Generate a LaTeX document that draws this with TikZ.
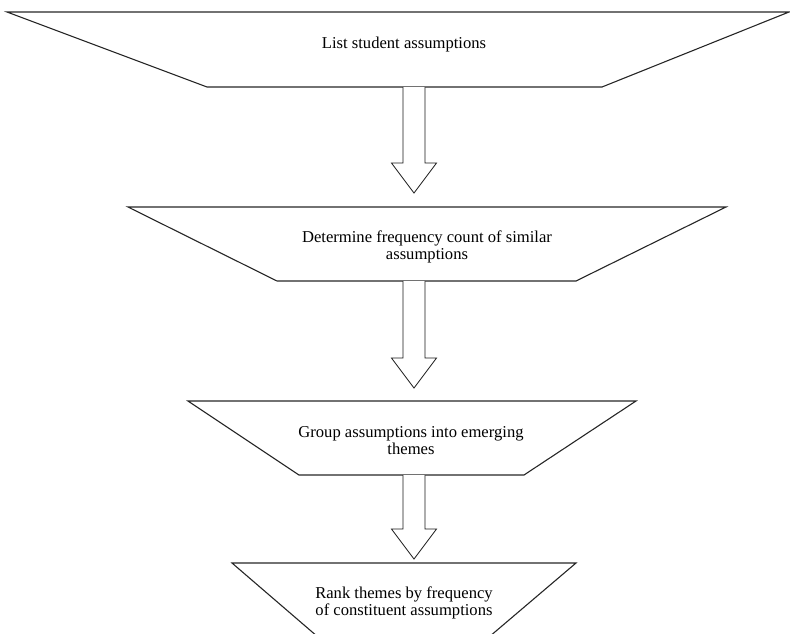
\documentclass[tikz,border=0pt]{standalone}
\usepackage{fontspec}
\setmainfont{Liberation Serif}
\usetikzlibrary{calc}
\begin{document}
\begin{tikzpicture}[x=1pt,y=1pt,
  shapebox/.style={draw=black!85, line width=1.1pt, line join=miter},
  blockarrow/.style={draw=black!90, line width=0.8pt, fill=white},
  steplabel/.style={inner sep=0pt, align=center, anchor=base, font=\fontsize{16.6}{17.5}\selectfont}]
\useasboundingbox (0,0) rectangle (790,-633);
\clip (0,0) rectangle (790,-633);
% trapezoids
\draw[shapebox] (7,-12) -- (789,-12) -- (602,-87) -- (207,-87) -- cycle;
\draw[shapebox] (128,-207) -- (726,-207) -- (576,-281) -- (277,-281) -- cycle;
\draw[shapebox] (188,-401) -- (636,-401) -- (524,-475) -- (299,-475) -- cycle;
\draw[shapebox] (232,-563) -- (576,-563) -- (489,-637) -- (318,-637) -- cycle;
% texts (anchor base = baseline of the last line)
\node[steplabel] (t1) at (404,-48) {List student assumptions};
\node[steplabel] (t2) at (427,-259.5) {Determine frequency count of similar\\assumptions};
\node[steplabel] (t3) at (411,-454.5) {Group assumptions into emerging\\themes};
\node[steplabel] (t4) at (404,-615.5) {Rank themes by frequency\\of constituent assumptions};
% arrow anchors
\coordinate (a1s) at (414,-87);  \coordinate (a1e) at (414,-193);
\coordinate (a2s) at (414,-281); \coordinate (a2e) at (414,-388);
\coordinate (a3s) at (414,-475); \coordinate (a3e) at (414,-559);
\foreach \s/\e in {a1s/a1e,a2s/a2e,a3s/a3e}{
  \draw[blockarrow] ($(\s)+(-11,0)$) -- ($(\e)+(-11,30)$) -- ($(\e)+(-22.5,30)$) -- (\e)
     -- ($(\e)+(22.5,30)$) -- ($(\e)+(11,30)$) -- ($(\s)+(11,0)$);
}
\end{tikzpicture}
\end{document}
